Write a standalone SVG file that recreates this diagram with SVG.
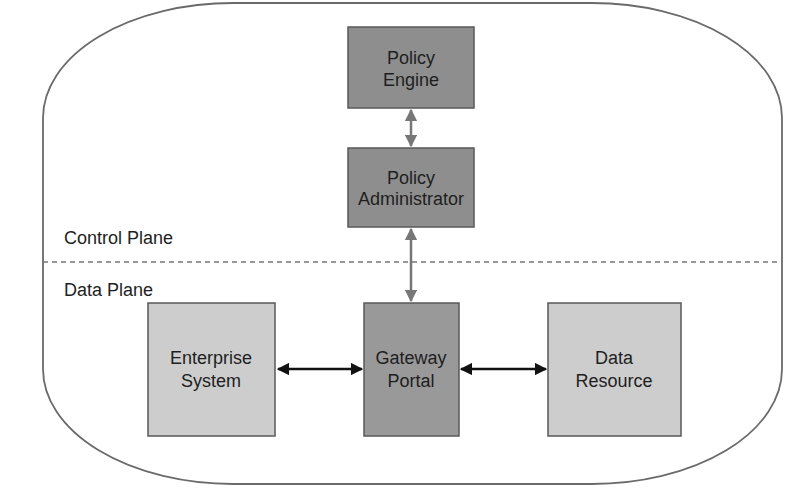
<svg xmlns="http://www.w3.org/2000/svg" width="803" height="494" viewBox="0 0 803 494">
<style>
.box{stroke:#585858;stroke-width:1.5}
.dark{fill:#8e8e8e}
.mid{fill:#999999}
.light{fill:#cdcdcd}
.t{font-family:"Liberation Sans",Arial,sans-serif;font-size:18px;fill:#1e1e1e;text-anchor:middle}
.lbl{font-family:"Liberation Sans",Arial,sans-serif;font-size:18px;fill:#1e1e1e}
.ga{stroke:#777;stroke-width:2.5;fill:none}
.ba{stroke:#111;stroke-width:2.5;fill:none}
</style>
<defs>
<marker id="ag" viewBox="0 0 10 10" refX="9" refY="5" markerWidth="5" markerHeight="5" orient="auto-start-reverse" markerUnits="strokeWidth">
<path d="M0,0 L10,5 L0,10 Z" fill="#777"/>
</marker>
<marker id="ab" viewBox="0 0 10 10" refX="9" refY="5" markerWidth="5" markerHeight="5" orient="auto-start-reverse" markerUnits="strokeWidth">
<path d="M0,0 L10,5 L0,10 Z" fill="#111"/>
</marker>
</defs>
<rect width="803" height="494" fill="#ffffff"/>
<rect id="boundary" x="43" y="3" width="739" height="481" rx="190" ry="115" fill="none" stroke="#6a6a6a" stroke-width="1.8"/>
<g id="plane-divider">
<line x1="43" y1="262" x2="782" y2="262" stroke="#777" stroke-width="1.3" stroke-dasharray="5,4"/>
<text class="lbl" x="64" y="244">Control Plane</text>
<text class="lbl" x="64" y="296">Data Plane</text>
</g>
<g id="connectors">
<line class="ga" x1="411" y1="110" x2="411" y2="146" marker-start="url(#ag)" marker-end="url(#ag)"/>
<line class="ga" x1="411" y1="229" x2="411" y2="301" marker-start="url(#ag)" marker-end="url(#ag)"/>
<line class="ba" x1="278" y1="369" x2="362" y2="369" marker-start="url(#ab)" marker-end="url(#ab)"/>
<line class="ba" x1="461" y1="369" x2="546" y2="369" marker-start="url(#ab)" marker-end="url(#ab)"/>
</g>
<g id="policy-engine">
<rect class="box dark" x="348" y="27" width="126" height="81"/>
<text class="t" x="411" y="64">Policy</text>
<text class="t" x="411" y="86">Engine</text>
</g>
<g id="policy-administrator">
<rect class="box dark" x="348" y="148" width="126" height="79"/>
<text class="t" x="411" y="184">Policy</text>
<text class="t" x="411" y="205">Administrator</text>
</g>
<g id="enterprise-system">
<rect class="box light" x="148" y="303" width="127" height="133"/>
<text class="t" x="211" y="364">Enterprise</text>
<text class="t" x="211" y="387">System</text>
</g>
<g id="gateway-portal">
<rect class="box mid" x="364" y="303" width="95" height="133"/>
<text class="t" x="411" y="364">Gateway</text>
<text class="t" x="411" y="387">Portal</text>
</g>
<g id="data-resource">
<rect class="box light" x="548" y="303" width="133" height="133"/>
<text class="t" x="614" y="364">Data</text>
<text class="t" x="614" y="387">Resource</text>
</g>
</svg>
